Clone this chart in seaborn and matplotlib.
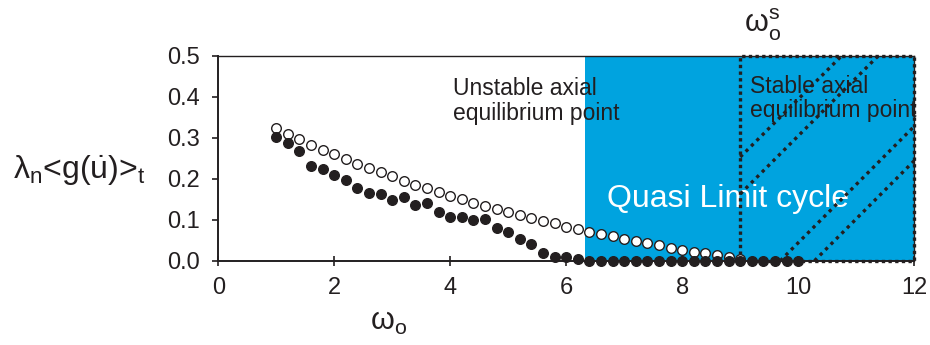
import numpy as np
import pandas as pd
import matplotlib
matplotlib.use("Agg")
import matplotlib.pyplot as plt
import seaborn as sns

# ---------------- data ----------------
omega_open = [1.0, 1.2, 1.4, 1.6, 1.8, 2.0, 2.2, 2.4, 2.6, 2.8,
              3.0, 3.2, 3.4, 3.6, 3.8, 4.0, 4.2, 4.4, 4.6, 4.8,
              5.0, 5.2, 5.4, 5.6, 5.8, 6.0, 6.2, 6.4, 6.6, 6.8,
              7.0, 7.2, 7.4, 7.6, 7.8, 8.0, 8.2, 8.4, 8.6, 8.8, 9.0]
value_open = [0.323, 0.309, 0.296, 0.283, 0.271, 0.260, 0.248, 0.236, 0.226, 0.216,
              0.207, 0.195, 0.185, 0.177, 0.167, 0.159, 0.150, 0.141, 0.134, 0.125,
              0.118, 0.111, 0.103, 0.097, 0.091, 0.082, 0.077, 0.071, 0.065, 0.060,
              0.053, 0.047, 0.042, 0.038, 0.031, 0.026, 0.022, 0.018, 0.013, 0.009, 0.004]

omega_filled = [1.0, 1.2, 1.4, 1.6, 1.8, 2.0, 2.2, 2.4, 2.6, 2.8,
                3.0, 3.2, 3.4, 3.6, 3.8, 4.0, 4.2, 4.4, 4.6, 4.8,
                5.0, 5.2, 5.4, 5.6, 5.8, 6.0, 6.2, 6.4, 6.6, 6.8,
                7.0, 7.2, 7.4, 7.6, 7.8, 8.0, 8.2, 8.4, 8.6, 8.8,
                9.0, 9.2, 9.4, 9.6, 9.8, 10.0]
value_filled = [0.301, 0.288, 0.267, 0.232, 0.223, 0.209, 0.197, 0.177, 0.166, 0.163,
                0.148, 0.156, 0.136, 0.140, 0.118, 0.106, 0.107, 0.099, 0.102, 0.081,
                0.069, 0.053, 0.041, 0.020, 0.010, 0.008, 0.003, 0.0, 0.0, 0.0,
                0.0, 0.0, 0.0, 0.0, 0.0, 0.0, 0.0, 0.0, 0.0, 0.0,
                0.0, 0.0, 0.0, 0.0, 0.0, 0.0]

x_ticks = [0, 2, 4, 6, 8, 10, 12]
y_ticks = [0.0, 0.1, 0.2, 0.3, 0.4, 0.5]
y_tick_labels = ["0.0", "0.1", "0.2", "0.3", "0.4", "0.5"]

limit_cycle_start = 6.32          # start of the blue "Quasi Limit cycle" region
stable_box = (9.0, 12.0, 0.0, 0.5)  # x0, x1, y0, y1 of the dotted box
hatch_lines = [((9.0, 0.253), (10.75, 0.5)),
               ((9.0, 0.163), (11.38, 0.5)),
               ((9.69, 0.0), (12.0, 0.328)),
               ((10.28, 0.0), (12.0, 0.244))]

# ---------------- style ----------------
sns.set_style("white")
plt.rcParams["font.family"] = ["Liberation Sans", "DejaVu Sans"]
plt.rcParams["mathtext.fontset"] = "custom"
plt.rcParams["mathtext.rm"] = "Liberation Sans"
plt.rcParams["mathtext.it"] = "Liberation Sans:italic"
plt.rcParams["mathtext.bf"] = "Liberation Sans:bold"

ink = "#231F20"
blue = "#00A3DF"

fig = plt.figure(figsize=(9.3, 3.45), dpi=100)
ax = fig.add_axes([0.2347, 0.2443, 0.7484, 0.5942])

# blue region
ax.axvspan(limit_cycle_start, 12, color=blue, lw=0, zorder=0)

# dotted box
x0, x1, y0, y1 = stable_box
ax.plot([x0, x0, x1, x1, x0], [y0, y1, y1, y0, y0], color=ink, lw=2.4,
        linestyle=(0, (1.0, 1.0)), dash_capstyle="butt", zorder=2, clip_on=False)
for (p, q) in hatch_lines:
    ax.plot([p[0], q[0]], [p[1], q[1]], color=ink, lw=2.4,
            linestyle=(0, (1.0, 1.3)), dash_capstyle="butt", zorder=2)

df_open = pd.DataFrame({"omega": omega_open, "value": value_open})
df_filled = pd.DataFrame({"omega": omega_filled, "value": value_filled})

sns.scatterplot(data=df_open, x="omega", y="value", ax=ax, marker="o", s=48,
                facecolor="white", edgecolor=ink, linewidth=1.0, zorder=3, clip_on=False)
sns.scatterplot(data=df_filled, x="omega", y="value", ax=ax, marker="o", s=48,
                color=ink, edgecolor=ink, linewidth=1.0, zorder=4, clip_on=False)

ax.set_xlim(0, 12)
ax.set_ylim(0, 0.5)
ax.set_xticks(x_ticks)
ax.set_xticklabels([str(t) for t in x_ticks])
ax.set_yticks(y_ticks)
ax.set_yticklabels(y_tick_labels)
ax.set_xlabel("")
ax.set_ylabel("")

for side in ["left", "bottom"]:
    ax.spines[side].set_linewidth(1.4)
    ax.spines[side].set_color(ink)
for side in ["top", "right"]:
    ax.spines[side].set_linewidth(1.0)
    ax.spines[side].set_color(ink)
ax.spines["left"].set_zorder(5)
ax.spines["bottom"].set_zorder(1)

ax.tick_params(axis="x", direction="inout", length=7, width=1.2, color=ink,
               labelsize=17, labelcolor=ink, pad=8)
ax.tick_params(axis="y", direction="out", length=4, width=1.2, color=ink,
               labelsize=17, labelcolor=ink, pad=9, left=True)
ax.tick_params(axis="x", bottom=True)

# texts
ax.text(4.04, 0.404, "Unstable axial", fontsize=16.5, color=ink, va="baseline", ha="left")
ax.text(4.04, 0.343, "equilibrium point", fontsize=16.5, color=ink, va="baseline", ha="left")
ax.text(9.16, 0.410, "Stable axial", fontsize=16.5, color=ink, va="baseline", ha="left", zorder=1)
ax.text(9.16, 0.351, "equilibrium point", fontsize=16.5, color=ink, va="baseline", ha="left", zorder=1)
ax.text(6.70, 0.132, "Quasi Limit cycle", fontsize=23, color="white", va="baseline", ha="left", zorder=1)

fig.text(0.418, 0.045, "ω$_{\\rm o}$", fontsize=22, color=ink, ha="center", va="baseline")
fig.text(0.82, 0.905, "ω$^{\\rm s}_{\\rm o}$", fontsize=22, color=ink, ha="center", va="baseline")
fig.text(0.085, 0.482, "λ$_{\\rm n}$<g($\\dot{\\rm u}$)>$_{\\rm t}$", fontsize=23,
         color=ink, ha="center", va="baseline")

fig.savefig("out.png", dpi=100)
